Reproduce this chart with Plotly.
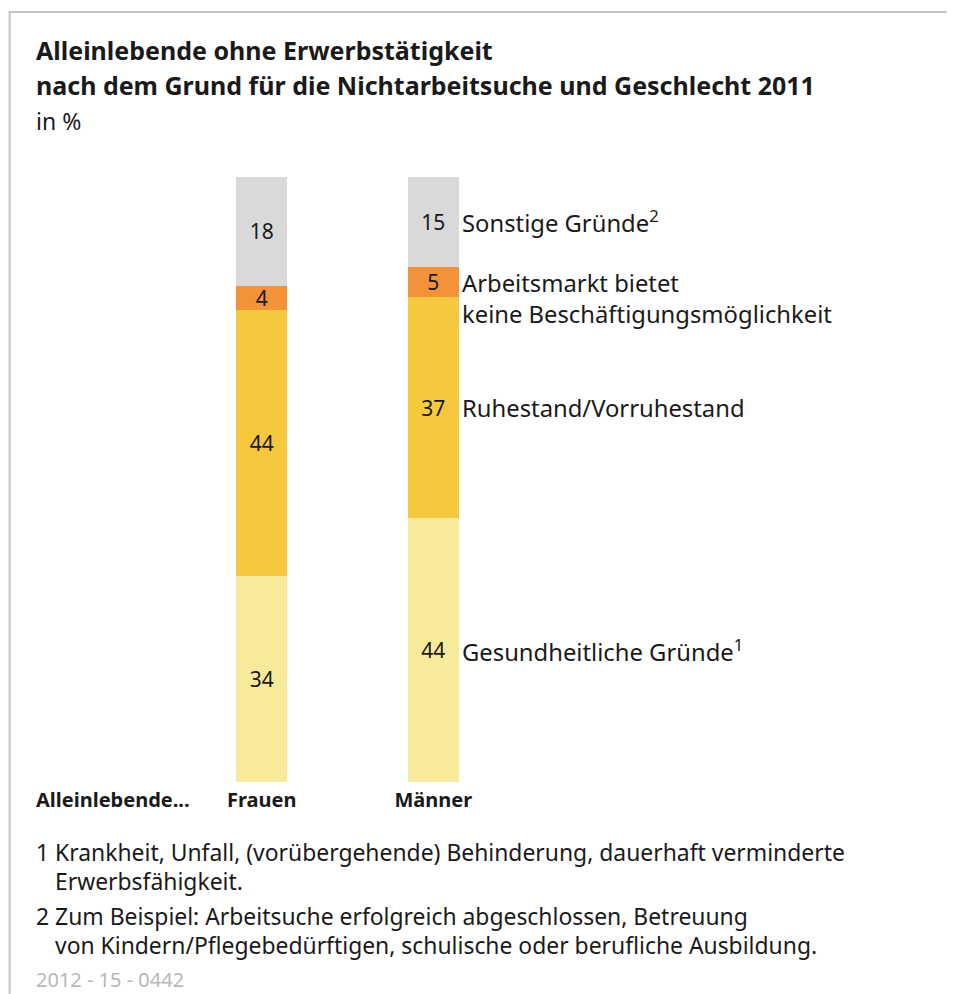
import plotly.graph_objects as go
import numpy as np

# ---- data ----
groups = ["Frauen", "Männer"]
reasons = [
    "Gesundheitliche Gründe<sup>1</sup>",
    "Ruhestand/Vorruhestand",
    "Arbeitsmarkt bietet<br>keine Beschäftigungsmöglichkeit",
    "Sonstige Gründe<sup>2</sup>",
]
frauen = [34, 44, 4, 18]
maenner = [44, 37, 5, 15]
colors = ["#f7eb9b", "#f5c83e", "#f39239", "#d9d9d9"]

title_lines = [
    "Alleinlebende ohne Erwerbstätigkeit",
    "nach dem Grund für die Nichtarbeitsuche und Geschlecht 2011",
]
subtitle = "in %"
row_label = "Alleinlebende..."
footnotes = [
    ("1 Krankheit, Unfall, (vorübergehende) Behinderung, dauerhaft verminderte", "Erwerbsfähigkeit."),
    ("2 Zum Beispiel: Arbeitsuche erfolgreich abgeschlossen, Betreuung",
     "von Kindern/Pflegebedürftigen, schulische oder berufliche Ausbildung."),
]
source_code = "2012 - 15 - 0442"

# ---- layout geometry (page has an 8px body margin) ----
OFF = 8
W, H = 955 - OFF, 994 - OFF
PLOT_LEFT, PLOT_RIGHT, PLOT_TOP, PLOT_BOTTOM = 89.5, 605.5, 177, 782  # page pixels
L = PLOT_LEFT - OFF
R = W - (PLOT_RIGHT - OFF)
T = PLOT_TOP - OFF
B = H - (PLOT_BOTTOM - OFF)
PW, PH = W - L - R, H - T - B
FONT = "Noto Sans"
INK = "#1a1a1a"


def px(x):
    return (x - OFF - L) / PW


def py(y):
    return (H - B - (y - OFF)) / PH


fig = go.Figure()
values = np.array([frauen, maenner], dtype=float)  # rows: groups
for i, reason in enumerate(reasons):
    fig.add_trace(go.Bar(
        x=groups,
        y=values[:, i],
        name=reason,
        width=0.296,
        marker=dict(color=colors[i], line=dict(width=0)),
        text=[str(int(v)) for v in values[:, i]],
        textposition="inside",
        insidetextanchor="middle",
        textangle=0,
        textfont=dict(family=FONT, size=21, color=INK),
        constraintext="none",
        hoverinfo="skip",
    ))

annotations = []
# right-side labels at the Männer segment centres (normalised to 100 %)
m = values[1]
cum = np.cumsum(m) / m.sum() * 100
mid = cum - (m / m.sum() * 100) / 2
for i, reason in enumerate(reasons):
    if "<br>" in reason:
        annotations.append(dict(x="Männer", y=mid[i], xref="x", yref="y", text=reason,
                                xanchor="left", yanchor="top", align="left", xshift=27, yshift=17,
                                showarrow=False, font=dict(family=FONT, size=23.8, color=INK)))
    else:
        annotations.append(dict(x="Männer", y=mid[i], xref="x", yref="y", text=reason,
                                xanchor="left", yanchor="middle", align="left", xshift=27,
                                showarrow=False, font=dict(family=FONT, size=23.8, color=INK)))


def txt(x, y, text, size, bold=False, color=INK):
    annotations.append(dict(x=px(x), y=py(y), xref="paper", yref="paper", text=text,
                            xanchor="left", yanchor="middle", align="left", showarrow=False,
                            font=dict(family=FONT, size=size, color=color,
                                      weight="bold" if bold else "normal")))


txt(33, 50, title_lines[0], 25, bold=True)
txt(33, 85, title_lines[1], 25, bold=True)
txt(33, 121, subtitle, 23)
txt(33, 799, row_label, 20, bold=True)
ys = [852, 881, 916, 945]
k = 0
for first, second in footnotes:
    txt(33, ys[k], first, 22.9)
    txt(52, ys[k + 1], second, 22.9)
    k += 2
txt(33, 979, source_code, 20, color="#b8b8b8")

shapes = [
    dict(type="line", xref="paper", yref="paper", x0=px(8), x1=px(955), y0=py(12), y1=py(12),
         line=dict(color="#c4c4c4", width=2)),
    dict(type="line", xref="paper", yref="paper", x0=px(9), x1=px(9), y0=py(12), y1=py(994),
         line=dict(color="#c4c4c4", width=2)),
]

fig.update_layout(
    width=W, height=H,
    margin=dict(l=L, r=R, t=T, b=B, pad=0),
    barmode="stack",
    barnorm="percent",
    showlegend=False,
    plot_bgcolor="white",
    paper_bgcolor="white",
    font=dict(family=FONT, color=INK),
    xaxis=dict(range=[-1, 2], showgrid=False, zeroline=False, showline=False, ticks="",
               ticklabelstandoff=4,
               tickfont=dict(family=FONT, size=20, color=INK, weight="bold"), fixedrange=True),
    yaxis=dict(range=[0, 100], visible=False, fixedrange=True),
    annotations=annotations,
    shapes=shapes,
    hovermode=False,
)

fig.write_html("out.html", config={"displayModeBar": False})
